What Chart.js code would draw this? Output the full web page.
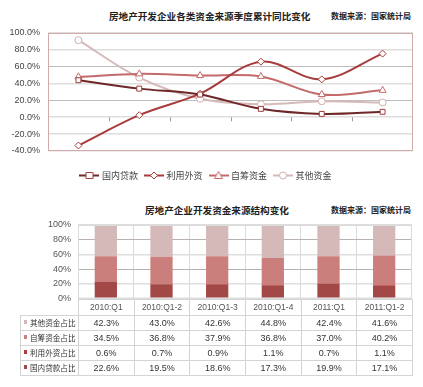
<!DOCTYPE html>
<html>
<head>
<meta charset="utf-8">
<script src="https://cdn.jsdelivr.net/npm/chart.js@4.4.0/dist/chart.umd.min.js"></script>
<style>
    body { margin: 0; width: 423px; height: 387px; background: #fff; position: relative; overflow: hidden; font-family: "Noto Sans CJK SC", sans-serif; }
    .title { position: absolute; font-weight: bold; font-size: 9.6px; color: #222; white-space: nowrap; line-height: 12px; }
    .source { position: absolute; font-weight: bold; font-size: 8px; color: #222; white-space: nowrap; line-height: 10px; }
    #lineWrap { position: absolute; left: 0; top: 0; width: 423px; height: 190px; }
    #barWrap { position: absolute; left: 0; top: 200px; width: 423px; height: 111px; }
    #shareTable { position: absolute; border-collapse: collapse; table-layout: fixed; }
    #shareTable td { border: 1px solid #d4d4d4; padding: 0; height: 14px; text-align: center; font-family: "Liberation Sans", sans-serif; font-size: 9px; color: #333; white-space: nowrap; overflow: hidden; }
    #shareTable tr.head td { height: 15px; color: #555; font-size: 8.5px; }
    #shareTable tr.head td.blank { border: none; }
    #shareTable td.rowLabel { text-align: left; font-family: "Noto Sans CJK SC", sans-serif; font-size: 7.6px; padding-left: 3px; }
    .chip { display: inline-block; width: 3px; height: 4px; margin-right: 3px; vertical-align: 2px; }
</style>
</head>
<body>
<div class="title" style="left:109px; top:10px;">房地产开发企业各类资金来源季度累计同比变化</div>
<div class="source" style="left:331px; top:11px;">数据来源：国家统计局</div>
<div id="lineWrap"><canvas id="growthChart"></canvas></div>

<div class="title" style="left:145px; top:204px;">房地产企业开发资金来源结构变化</div>
<div class="source" style="left:331px; top:205px;">数据来源：国家统计局</div>
<div id="barWrap"><canvas id="shareChart"></canvas></div>
<table id="shareTable"></table>

<script>
// categories
const categories = ['2010:Q1', '2010:Q1-2', '2010:Q1-3', '2010:Q1-4', '2011:Q1', '2011:Q1-2'];

// year-on-year growth (%)
const domesticLoanGrowth = [44, 34, 27, 10, 4, 6.5];
const foreignInvestGrowth = [-33.5, 2.5, 28, 66, 45, 75.5];
const selfRaisedGrowth = [48, 51.5, 49.5, 48.5, 27, 32];
const otherFundsGrowth = [91.5, 47, 22, 15.5, 19, 17.5];
const growthTicks = [-40, -20, 0, 20, 40, 60, 80, 100];

// share of funding sources (%), from the table
const otherShare = [42.3, 43.0, 42.6, 44.8, 42.4, 41.6];
const selfShare = [34.5, 36.8, 37.9, 36.8, 37.0, 40.2];
const foreignShare = [0.6, 0.7, 0.9, 1.1, 0.7, 1.1];
const loanShare = [22.6, 19.5, 18.6, 17.3, 19.9, 17.1];
const shareTicks = [0, 20, 40, 60, 80, 100];

const tickFont = { family: 'Liberation Sans', size: 9 };

// little "line + marker" pictures for the legend
function makeIcon(lineColor, markColor, shape) {
    const c = document.createElement('canvas');
    c.width = 20;
    c.height = 11;
    const ctx = c.getContext('2d');
    ctx.strokeStyle = lineColor;
    ctx.lineWidth = 2;
    ctx.beginPath();
    ctx.moveTo(0, 5.5);
    ctx.lineTo(20, 5.5);
    ctx.stroke();
    ctx.fillStyle = '#fff';
    ctx.strokeStyle = markColor;
    ctx.lineWidth = 1;
    ctx.beginPath();
    if (shape === 'rect') {
        ctx.rect(6.5, 2.5, 7, 6);
    } else if (shape === 'rectRot') {
        ctx.moveTo(10, 2); ctx.lineTo(13.5, 5.5); ctx.lineTo(10, 9); ctx.lineTo(6.5, 5.5); ctx.closePath();
    } else if (shape === 'triangle') {
        ctx.moveTo(10, 1.5); ctx.lineTo(14, 8.5); ctx.lineTo(6, 8.5); ctx.closePath();
    } else {
        ctx.arc(10, 5.5, 3.5, 0, Math.PI * 2);
    }
    ctx.fill();
    ctx.stroke();
    return c;
}

// draws the plot frame and small category ticks
const framePlugin = {
    id: 'frame',
    afterDraw(chart, args, opts) {
        const a = chart.chartArea;
        const ctx = chart.ctx;
        ctx.save();
        ctx.strokeStyle = opts.color;
        ctx.lineWidth = 1;
        ctx.strokeRect(a.left + 0.5, a.top + 0.5, a.right - a.left - 1, a.bottom - a.top - 1);
        if (opts.zeroTicks) {
            const xs = chart.scales.x;
            const y0 = chart.scales.y.getPixelForValue(0);
            ctx.strokeStyle = '#999';
            for (let i = 1; i < categories.length; i++) {
                const x = Math.round((xs.getPixelForTick(i - 1) + xs.getPixelForTick(i)) / 2) + 0.5;
                ctx.beginPath();
                ctx.moveTo(x, y0);
                ctx.lineTo(x, y0 + 4);
                ctx.stroke();
            }
        }
        ctx.restore();
    }
};

document.addEventListener('DOMContentLoaded', () => {
    const lineSeries = [
        { label: '国内贷款', data: domesticLoanGrowth, line: '#6e2626', mark: '#a23c3c', shape: 'rect', r: 3.5 },
        { label: '利用外资', data: foreignInvestGrowth, line: '#a83c3c', mark: '#a83c3c', shape: 'rectRot', r: 3.5 },
        { label: '自筹资金', data: selfRaisedGrowth, line: '#c46a6a', mark: '#c46a6a', shape: 'triangle', r: 4 },
        { label: '其他资金', data: otherFundsGrowth, line: '#d6b9b9', mark: '#cfb0b0', shape: 'circle', r: 3.5 }
    ];

    const growthCtx = document.getElementById('growthChart').getContext('2d');
    new Chart(growthCtx, {
        type: 'line',
        data: {
            labels: categories,
            datasets: lineSeries.map(s => ({
                label: s.label,
                data: s.data,
                borderColor: s.line,
                borderWidth: 2,
                tension: 0.35,
                pointStyle: s.shape,
                pointRadius: s.r,
                pointBackgroundColor: '#fff',
                pointBorderColor: s.mark,
                pointBorderWidth: 1,
                icon: makeIcon(s.line, s.mark, s.shape)
            }))
        },
        options: {
            responsive: true,
            maintainAspectRatio: false,
            animation: false,
            layout: { padding: { top: 33, right: 10, left: 0, bottom: 0 } },
            scales: {
                x: {
                    offset: true,
                    afterFit: scale => { scale.height = 12; },
                    grid: { display: false },
                    border: { display: false },
                    ticks: { font: tickFont, color: '#444', padding: 10, maxRotation: 0, autoSkip: false }
                },
                y: {
                    min: -40,
                    max: 100,
                    afterFit: scale => { scale.width = 48; },
                    afterBuildTicks: scale => { scale.ticks = growthTicks.map(v => ({ value: v })); },
                    border: { display: false },
                    grid: {
                        drawTicks: false,
                        color: ctx => (ctx.tick && (ctx.tick.value === 60 || ctx.tick.value === 20)) ? '#bdbdbd' : '#dedede',
                        lineWidth: ctx => (ctx.tick && (ctx.tick.value === 60 || ctx.tick.value === 20)) ? 1 : 1.6
                    },
                    ticks: {
                        font: tickFont,
                        color: '#444',
                        padding: 8,
                        autoSkip: false,
                        callback: v => v.toFixed(1) + '%'
                    }
                }
            },
            plugins: {
                frame: { color: '#d4a9a9', zeroTicks: true },
                tooltip: { enabled: false },
                legend: {
                    position: 'bottom',
                    labels: {
                        usePointStyle: true,
                        pointStyleWidth: 16,
                        padding: 8,
                        color: '#444',
                        font: { family: 'Noto Sans CJK SC', size: 9 },
                        generateLabels: chart => chart.data.datasets.map((ds, i) => ({
                            text: ds.label,
                            pointStyle: ds.icon,
                            fillStyle: '#fff',
                            strokeStyle: ds.borderColor,
                            lineWidth: 0,
                            fontColor: '#444',
                            datasetIndex: i
                        }))
                    }
                }
            }
        },
        plugins: [framePlugin]
    });

    const barSeries = [
        { label: '国内贷款占比', data: loanShare, color: '#a24846' },
        { label: '利用外资占比', data: foreignShare, color: '#b03a3a' },
        { label: '自筹资金占比', data: selfShare, color: '#cb7f7d' },
        { label: '其他资金占比', data: otherShare, color: '#d4b9b8' }
    ];

    const shareCtx = document.getElementById('shareChart').getContext('2d');
    const shareChart = new Chart(shareCtx, {
        type: 'bar',
        data: {
            labels: categories,
            datasets: barSeries.map(s => ({
                label: s.label,
                data: s.data,
                backgroundColor: s.color,
                borderWidth: 0,
                categoryPercentage: 1,
                barPercentage: 0.4
            }))
        },
        options: {
            responsive: true,
            maintainAspectRatio: false,
            animation: false,
            layout: { padding: { top: 25, right: 11, left: 0, bottom: 6 } },
            scales: {
                x: {
                    stacked: true,
                    ticks: { display: false },
                    border: { display: false },
                    grid: { offset: true, drawTicks: false, color: '#dadada' }
                },
                y: {
                    stacked: true,
                    min: 0,
                    max: 100,
                    afterFit: scale => { scale.width = 78; },
                    afterBuildTicks: scale => { scale.ticks = shareTicks.map(v => ({ value: v })); },
                    border: { display: false },
                    grid: {
                        drawTicks: false,
                        color: ctx => (ctx.tick && (ctx.tick.value === 80 || ctx.tick.value === 40)) ? '#b9b0b0' : '#dedede',
                        lineWidth: ctx => (ctx.tick && (ctx.tick.value === 80 || ctx.tick.value === 40)) ? 1 : 1.5
                    },
                    ticks: {
                        font: tickFont,
                        color: '#555',
                        padding: 7,
                        autoSkip: false,
                        callback: v => v + '%'
                    }
                }
            },
            plugins: {
                frame: { color: '#dadada', zeroTicks: false },
                tooltip: { enabled: false },
                legend: { display: false }
            }
        },
        plugins: [framePlugin]
    });

    // data table under the bars, lined up with the x scale
    const area = shareChart.chartArea;
    const colWidth = (area.right - area.left) / categories.length;
    const table = document.getElementById('shareTable');
    const tableLeft = 20;
    table.style.left = tableLeft + 'px';
    table.style.top = (200 + area.bottom) + 'px';
    table.style.width = (area.right - tableLeft) + 'px';

    let html = '<colgroup><col style="width:' + (area.left - tableLeft) + 'px">';
    categories.forEach(() => { html += '<col style="width:' + colWidth + 'px">'; });
    html += '</colgroup><tr class="head"><td class="blank"></td>';
    categories.forEach(c => { html += '<td>' + c + '</td>'; });
    html += '</tr>';
    barSeries.slice().reverse().forEach(s => {
        html += '<tr><td class="rowLabel"><span class="chip" style="background:' + s.color + '"></span>' + s.label + '</td>';
        s.data.forEach(v => { html += '<td>' + v.toFixed(1) + '%</td>'; });
        html += '</tr>';
    });
    table.innerHTML = html;
});
</script>
</body>
</html>
